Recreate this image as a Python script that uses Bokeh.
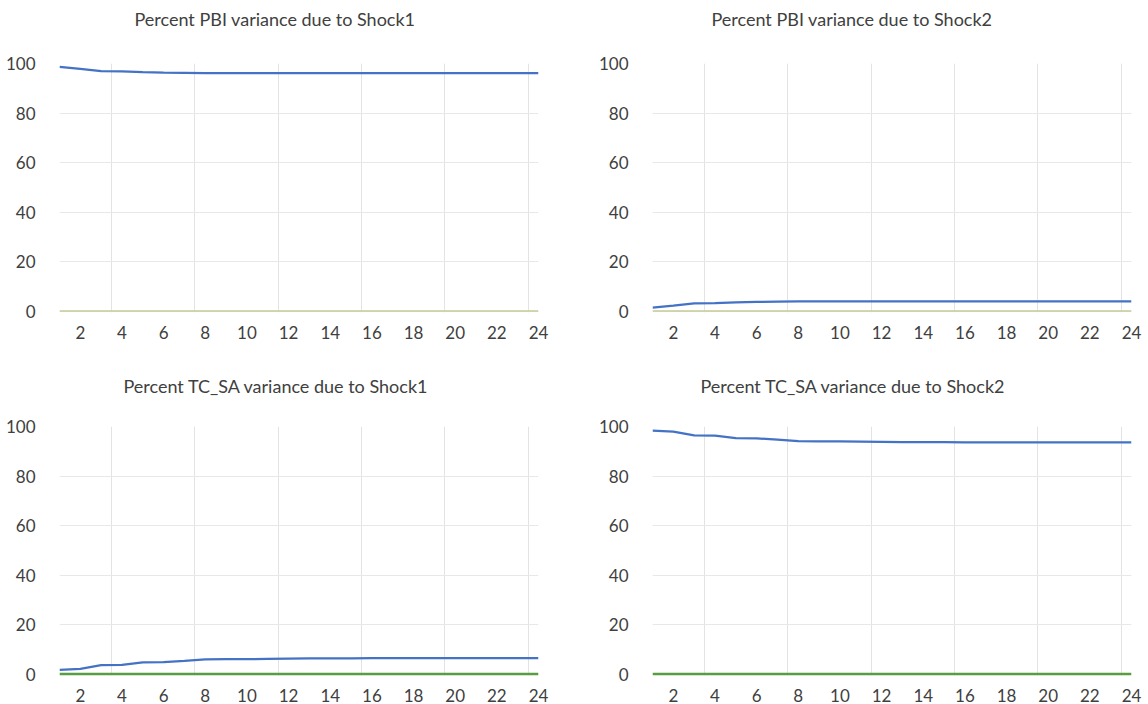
from bokeh.plotting import figure
from bokeh.models import Range1d, FixedTicker, Title
from bokeh.layouts import column, row
from bokeh.embed import file_html
from bokeh.resources import INLINE

periods = list(range(1, 25))
x_tick_values = [2, 4, 6, 8, 10, 12, 14, 16, 18, 20, 22, 24]
y_tick_values = [0, 20, 40, 60, 80, 100]

titles = [
    "Percent PBI variance due to Shock1",
    "Percent PBI variance due to Shock2",
    "Percent TC_SA variance due to Shock1",
    "Percent TC_SA variance due to Shock2",
]

pbi_shock1 = [98.6, 97.8, 96.9, 96.8, 96.5, 96.3, 96.2, 96.1, 96.1, 96.1, 96.1, 96.1,
              96.1, 96.1, 96.1, 96.1, 96.1, 96.1, 96.1, 96.1, 96.1, 96.1, 96.1, 96.1]
pbi_shock2 = [1.4, 2.2, 3.1, 3.2, 3.5, 3.7, 3.8, 3.9, 3.9, 3.9, 3.9, 3.9,
              3.9, 3.9, 3.9, 3.9, 3.9, 3.9, 3.9, 3.9, 3.9, 3.9, 3.9, 3.9]
tcsa_shock1 = [1.7, 2.1, 3.6, 3.7, 4.7, 4.8, 5.3, 5.9, 6.0, 6.0, 6.1, 6.2,
               6.3, 6.3, 6.3, 6.4, 6.4, 6.4, 6.4, 6.4, 6.4, 6.4, 6.4, 6.4]
tcsa_shock2 = [98.3, 97.9, 96.4, 96.3, 95.3, 95.2, 94.7, 94.1, 94.0, 94.0, 93.9, 93.8,
               93.7, 93.7, 93.7, 93.6, 93.6, 93.6, 93.6, 93.6, 93.6, 93.6, 93.6, 93.6]
zero_series = [0, 0, 0, 0, 0, 0, 0, 0, 0, 0, 0, 0,
               0, 0, 0, 0, 0, 0, 0, 0, 0, 0, 0, 0]

FONT = "Lato"
BLUE = "#4472C4"


def make_panel(title, values, left, right, top, bottom, zero_color, zero_width,
               title_dx, spacer_size):
    p = figure(width=574, height=352, output_backend="svg", toolbar_location=None,
               x_range=Range1d(1, 24), y_range=Range1d(-0.6, 100),
               min_border_left=left, min_border_right=right,
               min_border_top=top, min_border_bottom=bottom)
    # invisible spacer panel between frame and title
    p.add_layout(Title(text=" ", text_font_size=spacer_size, standoff=0,
                       text_color="white"), "above")
    p.add_layout(Title(text=title, align="left", offset=title_dx, text_font=FONT,
                       text_font_size="18px", text_font_style="normal",
                       text_color="#404040"), "above")
    p.outline_line_color = None
    p.background_fill_color = "white"
    p.border_fill_color = "white"

    p.xaxis.ticker = FixedTicker(ticks=x_tick_values)
    p.yaxis.ticker = FixedTicker(ticks=y_tick_values)
    for ax in (p.xaxis, p.yaxis):
        ax.axis_line_color = None
        ax.major_tick_line_color = None
        ax.minor_tick_line_color = None
        ax.major_label_text_font = FONT
        ax.major_label_text_font_size = "17px"
        ax.major_label_text_color = "#404040"
    p.xaxis.major_label_standoff = 7
    p.yaxis.major_label_standoff = 18

    p.xgrid.ticker = FixedTicker(ticks=[3.5, 7.5, 11.5, 15.5, 19.5, 23.5])
    p.xgrid.grid_line_color = "#e3e3e3"
    p.ygrid.grid_line_color = "#e8e8e8"

    p.line(periods, zero_series, line_color=zero_color, line_width=zero_width)
    p.line(periods, values, line_color=BLUE, line_width=2.25)
    return p


p1 = make_panel(titles[0], pbi_shock1, 59, 36, 63, 40, "#c6cc97", 1.5, 75, "24px")
p2 = make_panel(titles[1], pbi_shock2, 78, 17, 63, 40, "#c6cc97", 1.5, 59, "24px")
p3 = make_panel(titles[2], tcsa_shock1, 59, 36, 74, 28, "#5a9c42", 2.75, 64, "21px")
p4 = make_panel(titles[3], tcsa_shock2, 78, 17, 74, 28, "#5a9c42", 2.75, 48, "21px")

layout = column(row(p1, p2), row(p3, p4))
open("out.html", "w").write(file_html(layout, INLINE))
